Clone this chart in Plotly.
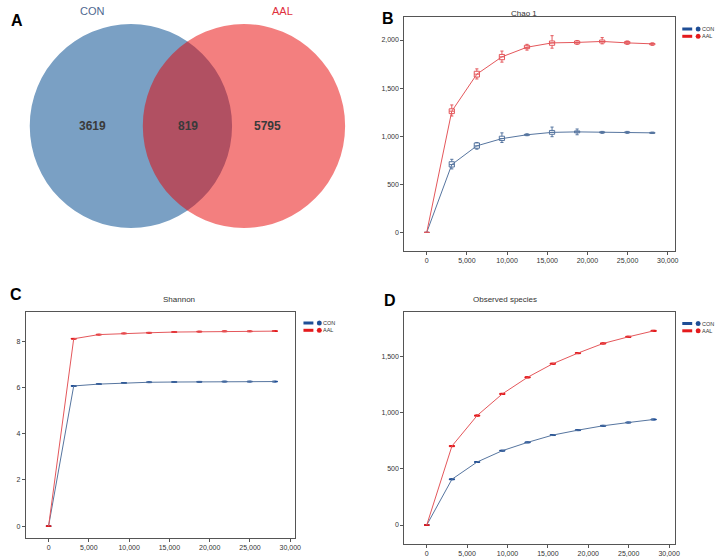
import plotly.graph_objects as go

W, H = 722, 557

# ---- data ----
groups = ["CON", "AAL"]
venn_counts = [3619, 819, 5795]  # CON only, shared, AAL only

depth = [0, 3120, 6240, 9360, 12480, 15600, 18720, 21840, 24960, 28080]

chao_con_q1 = [0, 680, 875, 955, 1010, 1020, 1035, 1035, 1035, 1030]
chao_con_med = [0, 705, 900, 975, 1015, 1040, 1045, 1040, 1040, 1035]
chao_con_q3 = [0, 735, 930, 1000, 1020, 1060, 1055, 1045, 1045, 1040]
chao_con_lo = [0, 660, 865, 935, 1005, 995, 1015, 1030, 1030, 1028]
chao_con_hi = [0, 760, 935, 1035, 1025, 1095, 1075, 1050, 1050, 1042]

chao_aal_q1 = [0, 1235, 1615, 1795, 1910, 1945, 1960, 1970, 1960, 1950]
chao_aal_med = [0, 1260, 1645, 1825, 1925, 1970, 1975, 1985, 1970, 1960]
chao_aal_q3 = [0, 1285, 1675, 1850, 1945, 1990, 1990, 2000, 1985, 1965]
chao_aal_lo = [0, 1210, 1595, 1770, 1895, 1915, 1955, 1960, 1955, 1945]
chao_aal_hi = [0, 1325, 1700, 1885, 1955, 2045, 1995, 2025, 1990, 1970]

shannon_con = [0, 6.06, 6.14, 6.19, 6.22, 6.23, 6.24, 6.25, 6.25, 6.25]
shannon_aal = [0, 8.10, 8.28, 8.33, 8.36, 8.39, 8.41, 8.42, 8.42, 8.43]

obs_con = [0, 408, 562, 663, 737, 802, 846, 885, 914, 941]
obs_aal = [0, 704, 976, 1169, 1317, 1438, 1533, 1619, 1678, 1731]

# ---- styling ----
FONT = "Liberation Sans, Arial, sans-serif"
line_col = {"CON": "#56759f", "AAL": "#e4575b"}
legend_col = {"CON": "#1f4e96", "AAL": "#e41a1c"}


def px(x):
    return x / W


def py(y):
    return 1 - y / H


fig = go.Figure()

# panel B: Chao 1 with boxes
chao = {
    "CON": (chao_con_q1, chao_con_med, chao_con_q3, chao_con_lo, chao_con_hi),
    "AAL": (chao_aal_q1, chao_aal_med, chao_aal_q3, chao_aal_lo, chao_aal_hi),
}
for g in groups:
    q1, med, q3, lo, hi = chao[g]
    fig.add_trace(go.Scatter(x=depth, y=med, mode="lines", line=dict(color=line_col[g], width=1),
                             xaxis="x", yaxis="y", showlegend=False, hoverinfo="skip"))
    fig.add_trace(go.Box(x=depth, q1=q1, median=med, q3=q3, lowerfence=lo, upperfence=hi,
                         width=650, whiskerwidth=0.6, line=dict(color=line_col[g], width=1),
                         fillcolor="rgba(255,255,255,0.6)", boxpoints=False,
                         xaxis="x", yaxis="y", showlegend=False))


def small_boxes(vals, spread, g, xa, ya):
    q1 = [v - spread if v else 0 for v in vals]
    q3 = [v + spread if v else 0 for v in vals]
    fig.add_trace(go.Scatter(x=depth, y=vals, mode="lines", line=dict(color=line_col[g], width=1),
                             xaxis=xa, yaxis=ya, showlegend=False, hoverinfo="skip"))
    fig.add_trace(go.Box(x=depth, q1=q1, median=vals, q3=q3, lowerfence=q1, upperfence=q3,
                         width=650, line=dict(color=legend_col[g], width=1),
                         fillcolor=line_col[g], boxpoints=False,
                         xaxis=xa, yaxis=ya, showlegend=False))


small_boxes(shannon_con, 0.015, "CON", "x2", "y2")
small_boxes(shannon_aal, 0.015, "AAL", "x2", "y2")
small_boxes(obs_con, 4, "CON", "x3", "y3")
small_boxes(obs_aal, 5, "AAL", "x3", "y3")

axis_common = dict(showgrid=False, zeroline=False, showline=True, mirror=True,
                   linecolor="#555555", linewidth=1, ticks="outside", ticklen=3,
                   tickcolor="#555555", tickfont=dict(size=7, color="#333333", family=FONT),
                   tickformat=",d")

# panel placement in pixels: (left, right, top, bottom)
pos_b = (407.7, 680.3, 17.3, 250.7)
pos_c = (26, 297.7, 311.7, 537.7)
pos_d = (407.7, 680.3, 311.7, 544)

fig.update_layout(
    width=W, height=H, margin=dict(l=0, r=0, t=0, b=0),
    paper_bgcolor="white", plot_bgcolor="white", boxmode="overlay",
    font=dict(family=FONT),
    xaxis=dict(domain=[px(pos_b[0]), px(pos_b[1])], range=[-2790, 30860], dtick=5000,
               anchor="y", **axis_common),
    yaxis=dict(domain=[py(pos_b[3]), py(pos_b[2])], range=[-190, 2236], dtick=500,
               anchor="x", **axis_common),
    xaxis2=dict(domain=[px(pos_c[0]), px(pos_c[1])], range=[-2830, 30615], dtick=5000,
                anchor="y2", **axis_common),
    yaxis2=dict(domain=[py(pos_c[3]), py(pos_c[2])], range=[-0.5, 9.27], dtick=2,
                anchor="x2", **axis_common),
    xaxis3=dict(domain=[px(pos_d[0]), px(pos_d[1])], range=[-2774, 30687], dtick=5000,
                anchor="y3", **axis_common),
    yaxis3=dict(domain=[py(pos_d[3]), py(pos_d[2])], range=[-169, 1902], dtick=500,
                anchor="x3", **axis_common),
    # Venn canvas, pixel units
    xaxis4=dict(domain=[0, px(360)], range=[0, 360], visible=False, anchor="y4"),
    yaxis4=dict(domain=[py(280), 1], range=[280, 0], visible=False, anchor="x4"),
)

# Venn circles
r = 102
cy = 126
fig.add_shape(type="circle", xref="x4", yref="y4", x0=132 - r, x1=132 + r, y0=cy - r, y1=cy + r,
              fillcolor="#7aa0c4", line=dict(width=0), layer="below")
fig.add_shape(type="circle", xref="x4", yref="y4", x0=246 - r, x1=246 + r, y0=cy - r, y1=cy + r,
              fillcolor="rgba(232,0,0,0.5)", line=dict(width=0), layer="below")

for xv, n in zip([93, 190, 270], venn_counts):
    fig.add_annotation(x=xv, y=cy, xref="x4", yref="y4", text=f"<b>{n}</b>", showarrow=False,
                       font=dict(size=12, color="#3a3a3a", family=FONT))
fig.add_annotation(x=93, y=11, xref="x4", yref="y4", text=groups[0], showarrow=False,
                   font=dict(size=11, color="#4f6890", family=FONT))
fig.add_annotation(x=285, y=11, xref="x4", yref="y4", text=groups[1], showarrow=False,
                   font=dict(size=11, color="#e0303c", family=FONT))

# panel letters and titles
for letter, x, y in [("A", 9, 10), ("B", 391, 8), ("C", 8, 294), ("D", 393, 300)]:
    fig.add_annotation(x=px(x), y=py(y), xref="paper", yref="paper", text=f"<b>{letter}</b>",
                       showarrow=False, font=dict(size=16, color="black", family=FONT))
for title, x, y in [("Chao 1", 544, 7), ("Shannon", 162, 299), ("Observed species", 544, 299)]:
    fig.add_annotation(x=px(x), y=py(y), xref="paper", yref="paper", text=title,
                       showarrow=False, font=dict(size=8, color="#333333", family=FONT))

# legends (bar + dot + label)
for lx, ly in [(688, 29), (306, 323), (688, 323.5)]:
    for i, g in enumerate(groups):
        yy = ly + i * 7.3
        fig.add_shape(type="rect", xref="paper", yref="paper", x0=px(lx), x1=px(lx + 10),
                      y0=py(yy + 1.5), y1=py(yy - 1.5), fillcolor=legend_col[g], line=dict(width=0))
        fig.add_shape(type="circle", xref="paper", yref="paper", x0=px(lx + 13.5), x1=px(lx + 18.5),
                      y0=py(yy + 2.5), y1=py(yy - 2.5), fillcolor=legend_col[g], line=dict(width=0))
        fig.add_annotation(x=px(lx + 18.5), y=py(yy), xref="paper", yref="paper", text=g,
                           showarrow=False, xanchor="left", yanchor="middle", borderpad=0,
                           font=dict(size=5.5, color="#333333", family=FONT))

# the page body has an 8px default margin; drop it so the figure fills the window
fig.write_html("out.html", config={"displayModeBar": False},
               post_script="document.body.style.margin='0';")
